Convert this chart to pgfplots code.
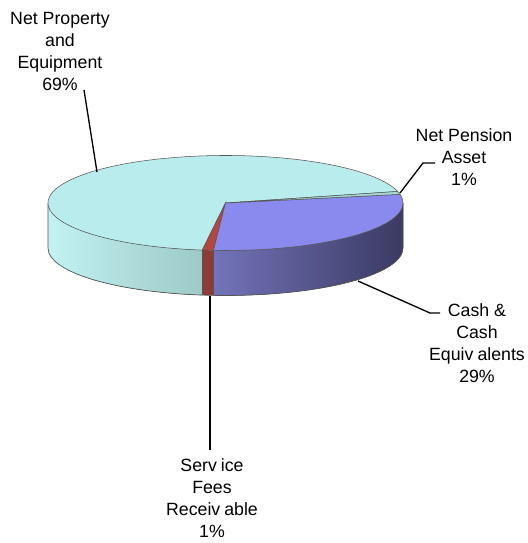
\documentclass[border=0pt]{standalone}
\usepackage{fontspec}
\setmainfont{Liberation Sans}
\usepackage{pgfplots}
\pgfplotsset{compat=1.18}
\usepackage{pgfplotstable}
\definecolor{propTop}{HTML}{B9ECEC}
\definecolor{propSideL}{HTML}{C2F2F2}
\definecolor{propSideM}{HTML}{B6E8E8}
\definecolor{propSideR}{HTML}{9CCAC7}
\definecolor{penTop}{HTML}{A6D8D8}
\definecolor{cashTop}{HTML}{8A8AEE}
\definecolor{cashSideL}{HTML}{7373BA}
\definecolor{cashSideM}{HTML}{464676}
\definecolor{cashSideR}{HTML}{3A3A62}
\definecolor{servTop}{HTML}{B4473E}
\definecolor{servSide}{HTML}{8E3B36}
\definecolor{edge}{HTML}{555555}
\newcommand\lbl{\fontsize{13.3}{16.5}\selectfont}

% slice shares in percent, in the order drawn (counter-clockwise)
\pgfplotstableread{
slice pct
Service 1
Cash 29
Pension 1
Property 69
}\piedata
\pgfplotstablegetelem{0}{pct}\of\piedata \let\pS\pgfplotsretval
\pgfplotstablegetelem{1}{pct}\of\piedata \let\pC\pgfplotsretval
\pgfplotstablegetelem{2}{pct}\of\piedata \let\pN\pgfplotsretval
\pgfplotstablegetelem{3}{pct}\of\piedata \let\pQ\pgfplotsretval
\pgfmathsetmacro\aS{262.5}
\pgfmathsetmacro\aC{\aS+3.6*\pS}
\pgfmathsetmacro\aP{\aC+3.6*\pC}
\pgfmathsetmacro\aQ{\aP+3.6*\pN}
\pgfmathsetmacro\aE{\aQ+3.6*\pQ}
\def\dep{33.75pt}
\tikzset{ell/.style={x radius=133.125pt, y radius=35.625pt}}

\begin{document}
\begin{tikzpicture}
\begin{axis}[hide axis, scale only axis, width=396pt, height=407.25pt,
  xmin=0, xmax=528, ymin=0, ymax=543, clip=false]
\path (axis cs:0,0) rectangle (axis cs:528,543);
\coordinate (C) at (axis cs:225.5,340);
\coordinate (L) at ([shift={(180:133.125pt and 35.625pt)}]C);
\coordinate (S1) at ([shift={(\aS:133.125pt and 35.625pt)}]C);
\coordinate (S2) at ([shift={(\aC:133.125pt and 35.625pt)}]C);
% side walls (front half)
\fill[left color=propSideL, middle color=propSideM, right color=propSideR]
  (L) arc[start angle=180, end angle=\aS, ell]
  -- ++(270:\dep) arc[start angle=\aS, end angle=180, ell] -- cycle;
\fill[servSide]
  (S1) arc[start angle=\aS, end angle=\aC, ell]
  -- ++(270:\dep) arc[start angle=\aC, end angle=\aS, ell] -- cycle;
\fill[left color=cashSideL, middle color=cashSideM, right color=cashSideR]
  (S2) arc[start angle=\aC, end angle=360, ell]
  -- ++(270:\dep) arc[start angle=360, end angle=\aC, ell] -- cycle;
% side edges
\draw[edge, line width=0.5pt]
  (L) -- ++(270:\dep) arc[start angle=180, end angle=360, ell] -- ++(90:\dep);
\draw[edge, line width=0.4pt] (S1) -- ++(270:\dep);
\draw[edge, line width=0.4pt] (S2) -- ++(270:\dep);
% top faces
\filldraw[fill=propTop, draw=edge, line width=0.4pt] (C) -- ++(\aQ:133.125pt and 35.625pt)
  arc[start angle=\aQ, end angle=\aE, ell] -- cycle;
\filldraw[fill=servTop, draw=edge, line width=0.4pt] (C) -- ++(\aS:133.125pt and 35.625pt)
  arc[start angle=\aS, end angle=\aC, ell] -- cycle;
\filldraw[fill=cashTop, draw=edge, line width=0.4pt] (C) -- ++(\aC:133.125pt and 35.625pt)
  arc[start angle=\aC, end angle=\aP, ell] -- cycle;
\filldraw[fill=penTop, draw=edge, line width=0.4pt] (C) -- ++(\aP:133.125pt and 35.625pt)
  arc[start angle=\aP, end angle=\aQ, ell] -- cycle;
% leader lines
\draw[black, line width=1pt] (axis cs:84,453) -- (axis cs:97,371);
\draw[black, line width=1pt] (axis cs:400,350) -- (axis cs:423,380) -- (axis cs:435,380);
\draw[black, line width=1pt] (axis cs:358,262) -- (axis cs:430,230) -- (axis cs:440,230);
\draw[black, line width=1pt] (axis cs:210,247) -- (axis cs:210,93);
% labels
\node[align=center, font=\lbl, inner sep=0pt] at (axis cs:60,491.5) {Net Property\\and\\Equipment\\69\%};
\node[align=center, font=\lbl, inner sep=0pt] at (axis cs:464,386) {Net Pension\\Asset\\1\%};
\node[align=center, font=\lbl, inner sep=0pt] at (axis cs:477,200) {Cash \&\\Cash\\Equiv\kern3pt alents\\29\%};
\node[align=center, font=\lbl, inner sep=0pt] at (axis cs:212,44.5) {Serv\kern3pt ice\\Fees\\Receiv\kern3pt able\\1\%};
\end{axis}
\end{tikzpicture}
\end{document}
